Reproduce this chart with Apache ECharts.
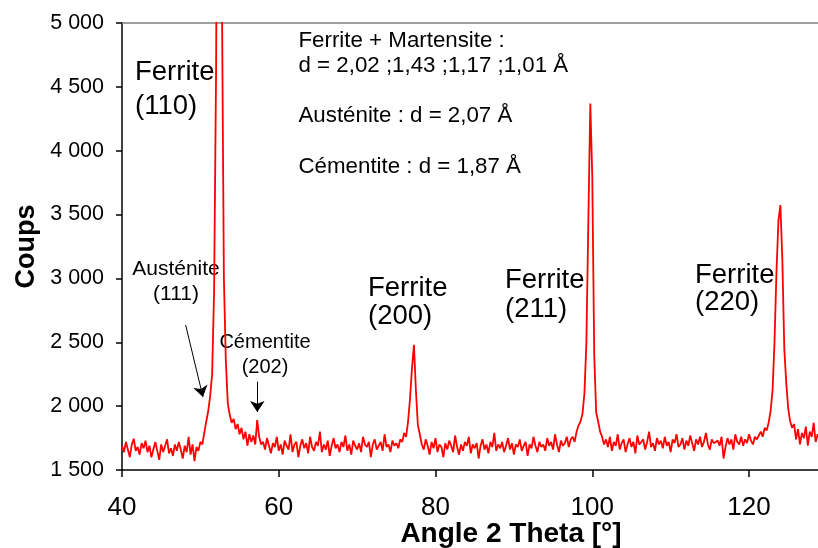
<!DOCTYPE html>
<html>
<head>
<meta charset="utf-8">
<script src="https://cdn.jsdelivr.net/npm/echarts@6/dist/echarts.min.js"></script>
<style>html,body{margin:0;padding:0;background:#fff;}#c{width:818px;height:548px;}</style>
</head>
<body>
<div id="c"></div>
<script>
// Scan grid (degrees 2-theta)
const scanStart = 40;
const scanStep = 0.25;
// Counts, by region
const counts40to49 = [1690,1640,1720,1660,1600,1700,1745,1650,1680,1620,
  1710,1670,1730,1640,1690,1600,1660,1720,1650,1580,
  1700,1640,1690,1740,1630,1670,1610,1700,1650,1720,
  1660,1590,1690,1640,1760,1620,1700,1570,1680,1650];
const counts50to57 = [1720,1700,1790,1880,1960,2080,2250,2900,4600,7800,8500,5200,3000,2350,2020,1930,
  1870,1900,1820,1860,1780,1830,1740,1800,1690,1780,1720,1770,1700,1890,1760,1700];
const counts58to75 = [1720,1660,1750,1690,1630,1710,1680,1760,1650,1700,
  1620,1730,1690,1660,1780,1640,1700,1720,1600,1690,
  1740,1670,1710,1630,1760,1680,1650,1720,1690,1800,
  1640,1700,1660,1730,1610,1690,1750,1670,1700,1640,
  1720,1680,1770,1650,1700,1620,1730,1690,1660,1710,
  1640,1760,1700,1680,1720,1600,1700,1740,1660,1690,
  1720,1650,1780,1680,1700,1640,1730,1690,1710,1670];
const counts75to78 = [1740,1720,1790,1760,1880,2060,2300,2480,2120,1850,1780,1700];
const counts78to97 = [1660,1740,1690,1620,1720,1670,1750,1640,1700,1680,
  1600,1710,1660,1730,1690,1640,1770,1680,1620,1700,
  1650,1720,1690,1760,1630,1700,1670,1710,1590,1690,
  1740,1660,1700,1630,1720,1680,1790,1650,1700,1670,
  1720,1640,1690,1750,1660,1710,1620,1700,1680,1740,
  1650,1690,1720,1610,1700,1670,1760,1690,1640,1720,
  1680,1700,1650,1750,1690,1720,1660,1780,1700,1640,
  1730,1690,1710,1760,1680,1740];
const counts97to101 = [1760,1720,1800,1850,1880,1940,2100,2500,3450,4370,3800,2400,1950,1880,1800];
const counts101to121 = [1760,1700,1740,1680,1760,1650,1720,1690,1780,1660,
  1710,1740,1640,1700,1750,1680,1720,1630,1770,1700,
  1690,1740,1660,1720,1800,1680,1710,1650,1750,1700,
  1730,1670,1760,1690,1720,1640,1740,1710,1780,1680,
  1700,1750,1660,1730,1690,1770,1710,1650,1740,1700,
  1760,1680,1720,1790,1700,1660,1740,1710,1700,1730,
  1690,1760,1590,1680,1750,1700,1740,1660,1780,1720,
  1700,1760,1690,1740,1710,1780,1730,1700,1760,1740];
const counts121to125 = [1770,1800,1760,1830,1810,1870,1960,2120,2500,3050,3450,3575,3150,2450,2180,1980,1880,1830];
const counts125to129 = [1860,1740,1820,1700,1790,1750,1840,1690,1800,1760,1870,1720,1780,1750];

const xTicks = {min: 40, max: 128.8, interval: 20};
const yTicks = {min: 1500, max: 5000, interval: 500};

// Annotation arrows (data coordinates): [fromAngle, fromCount, toAngle, toCount]
const arrowAusteniteCoords = [48.12, 2635, 50.33, 2072];
const arrowCementiteCoords = [57.26, 2191, 57.26, 1954];

const counts = [].concat(counts40to49, counts50to57, counts58to75, counts75to78,
  counts78to97, counts97to101, counts101to121, counts121to125, counts125to129);
const seriesData = counts.map((c, i) => [scanStart + i * scanStep, c]);

const FONT = '"Liberation Sans", Arial, sans-serif';
function fmtY(v) {
  const th = Math.floor(v / 1000);
  const r = String(v % 1000).padStart(3, '0');
  return th + ' ' + r;
}
function txt(text, x, y, size, align) {
  return {type: 'text', x: x, y: y, silent: true,
    style: {text: text, fontSize: size, fontFamily: FONT, fill: '#000',
      align: align || 'left', verticalAlign: 'middle'}};
}

const chart = echarts.init(document.getElementById('c'), null, {renderer: 'canvas'});
chart.setOption({
  animation: false,
  backgroundColor: '#fff',
  grid: {left: 122, right: 0, top: 23, bottom: 78, containLabel: false, outerBoundsMode: 'none'},
  xAxis: [{
    type: 'value', min: xTicks.min, max: xTicks.max, interval: xTicks.interval,
    name: 'Angle 2 Theta [°]', nameLocation: 'middle', nameGap: 50, nameMoveOverlap: false,
    nameTextStyle: {fontFamily: FONT, fontSize: 28, fontWeight: 'bold', color: '#000',
      lineHeight: 28, padding: [0, 0, 0, 82]},
    axisLine: {show: true, onZero: false, lineStyle: {color: '#000', width: 1.5}},
    axisTick: {show: true, inside: false, length: 7, lineStyle: {color: '#000', width: 1.5}},
    axisLabel: {fontFamily: FONT, fontSize: 26, color: '#000', margin: 25, lineHeight: 26,
      showMaxLabel: false},
    splitLine: {show: false}
  }, {
    type: 'value', position: 'top', min: xTicks.min, max: xTicks.max,
    axisLine: {show: true, onZero: false, lineStyle: {color: '#808080', width: 1.5}},
    axisTick: {show: false}, axisLabel: {show: false}, splitLine: {show: false}
  }],
  yAxis: {
    type: 'value', min: yTicks.min, max: yTicks.max, interval: yTicks.interval,
    name: 'Coups', nameLocation: 'middle', nameGap: 82, nameRotate: 90, nameMoveOverlap: false,
    nameTextStyle: {fontFamily: FONT, fontSize: 27, fontWeight: 'bold', color: '#000'},
    axisLine: {show: true, onZero: false, lineStyle: {color: '#000', width: 1.5}},
    axisTick: {show: true, inside: false, length: 6, lineStyle: {color: '#000', width: 1.5}},
    axisLabel: {fontFamily: FONT, fontSize: 21.5, color: '#000', margin: 18, formatter: fmtY},
    splitLine: {show: false}
  },
  series: [{
    type: 'line', data: seriesData, showSymbol: false, symbol: 'none',
    lineStyle: {color: '#ff0000', width: 1.8}, clip: true, silent: true,
    markLine: {
      silent: true, symbol: ['none', 'arrow'], symbolSize: 11,
      label: {show: false},
      lineStyle: {color: '#000', width: 1, type: 'solid'},
      emphasis: {disabled: true},
      data: [
        [{coord: [arrowAusteniteCoords[0], arrowAusteniteCoords[1]]}, {coord: [arrowAusteniteCoords[2], arrowAusteniteCoords[3]]}],
        [{coord: [arrowCementiteCoords[0], arrowCementiteCoords[1]]}, {coord: [arrowCementiteCoords[2], arrowCementiteCoords[3]]}]
      ]
    }
  }],
  graphic: [
    txt('Ferrite', 135, 72, 27.5), txt('(110)', 135, 106.5, 27.5),
    txt('Ferrite', 368, 288, 27.5), txt('(200)', 368, 316.7, 27.5),
    txt('Ferrite', 505, 280.5, 27.5), txt('(211)', 505, 309, 27.5),
    txt('Ferrite', 695, 275, 27.5), txt('(220)', 695, 302, 27.5),
    txt('Austénite', 176, 269, 21, 'center'), txt('(111)', 176, 294, 21, 'center'),
    txt('Cémentite', 265, 342, 20, 'center'), txt('(202)', 265, 367, 20, 'center'),
    txt('Ferrite + Martensite :', 298.5, 40.5, 22.3),
    txt('d = 2,02 ;1,43 ;1,17 ;1,01 Å', 298.5, 65.4, 22.3),
    txt('Austénite : d = 2,07 Å', 298.5, 116, 22.3),
    txt('Cémentite : d = 1,87 Å', 298.5, 167, 22.3)
  ]
});
</script>
</body>
</html>
